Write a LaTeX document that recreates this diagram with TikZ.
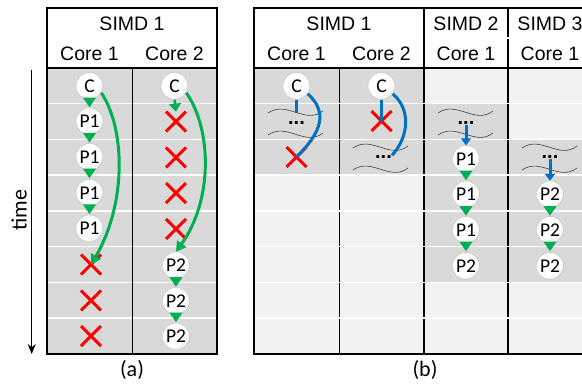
\documentclass[tikz,border=0pt]{standalone}
\usepackage{fontspec}
\setmainfont{Liberation Sans}
\newfontfamily\calfont{Carlito}
\usetikzlibrary{arrows.meta,shapes.misc,calc}
\definecolor{cgray}{HTML}{D9D9D9}
\definecolor{clight}{HTML}{F2F2F2}
\definecolor{cgreen}{HTML}{00B050}
\definecolor{cblue}{HTML}{0070C0}
\definecolor{cred}{HTML}{FF0000}
\pgfdeclareradialshading{ballw}{\pgfpoint{-10bp}{12bp}}{color(0bp)=(white); color(26bp)=(white); color(46bp)=(black!20); color(60bp)=(black!45); color(100bp)=(black!45)}
\begin{document}
\begin{tikzpicture}[x=1pt,y=-1pt,
  proc/.style={circle, shading=ballw, draw=black!25, line width=0.4pt, minimum size=27pt, inner sep=0pt, font=\calfont\fontsize{19.5}{19.5}\selectfont},
  xmark/.style={cross out, draw=cred, line width=3pt, minimum size=17pt, inner sep=0pt},
  hdr/.style={font=\fontsize{19.5}{20}\selectfont, inner sep=0pt, anchor=base},
  captext/.style={font=\calfont\fontsize{22}{22}\selectfont, inner sep=0pt},
  dotstext/.style={font=\bfseries\fontsize{20}{20}\selectfont, inner sep=0pt},
  wavy/.style={draw=black!75, line width=0.6pt},
  gtip/.style={draw=cgreen, line width=2.5pt, -{Triangle[width=12pt,length=8pt]}},
  gcurve/.style={draw=cgreen, line width=3pt, -{Triangle[width=11pt,length=10pt]}},
  barrow/.style={draw=cblue, line width=3pt, -{Triangle[width=10pt,length=7pt]}},
  bline/.style={draw=cblue, line width=3pt},
  rowline/.style={draw=white, line width=1.5pt},
  borderline/.style={draw=black, line width=1.6pt},
  thinline/.style={draw=black, line width=0.9pt}
]
\useasboundingbox (0,0) rectangle (582,385);
\clip (0,0) rectangle (582,385);

% ---------------- panel (a) ----------------
\fill[cgray] (47,68) rectangle (217,354);
\foreach \i in {1,...,7} {\draw[rowline] (48,68+35.75*\i) -- (216,68+35.75*\i);}
\draw[thinline] (132,68) -- (132,354);
\draw[borderline] (47,8) rectangle (217,354);
\draw[borderline] (47,68) -- (217,68);
\node[hdr] (a-simd) at (132,31) {SIMD 1};
\node[hdr] (a-c1) at (89.5,61) {Core 1};
\node[hdr] (a-c2) at (174.5,61) {Core 2};

% time arrow
\coordinate (t0) at (31.7,70);
\coordinate (t1) at (31.7,354);
\draw[line width=1.5pt, -{Stealth[width=8pt,length=10pt]}] (t0) -- (t1);
\node[captext, rotate=90] (time) at (19,210) {time};
\node[captext] (lab-a) at (132,370) {(a)};

% core 1 column
\node[proc] (a1) at (89.5,86) {C};
\node[proc] (a2) at (89.5,121.3) {P1};
\node[proc] (a3) at (89.5,157) {P1};
\node[proc] (a4) at (89.5,192.8) {P1};
\node[proc] (a5) at (89.5,228.5) {P1};
\node[xmark] (a6) at (91,264.6) {};
\node[xmark] (a7) at (91,300.4) {};
\node[xmark] (a8) at (91,336.1) {};

% core 2 column
\node[proc] (b1) at (174.5,86) {C};
\node[xmark] (b2) at (176,121.6) {};
\node[xmark] (b3) at (176,157.4) {};
\node[xmark] (b4) at (176,193.1) {};
\node[xmark] (b5) at (176,228.9) {};
\node[proc] (b6) at (176,265.5) {P2};
\node[proc] (b7) at (176,301) {P2};
\node[proc] (b8) at (176,336.5) {P2};
\draw[gtip] (b1.south) -- (b2.north);

% curved green arrows
\draw[gcurve] (a1.-30) .. controls (126,130) and (126,205) .. (a6.center);
\draw[gcurve] (b1.-30) .. controls (212,130) and (213,200) .. (b6.north);

% ---------------- panel (b) ----------------
\fill[cgray] (254,68) rectangle (424,175.25);
\fill[clight] (254,175.25) rectangle (424,354);
\fill[clight] (424,68) rectangle (508,103.75);
\fill[cgray] (424,103.75) rectangle (508,282.75);
\fill[clight] (424,282.75) rectangle (508,354);
\fill[clight] (508,68) rectangle (592,139.5);
\fill[cgray] (508,139.5) rectangle (592,282.75);
\fill[clight] (508,282.75) rectangle (592,354);

\draw[thinline] (339,68) -- (339,354);
\draw[borderline] (424,8) -- (424,354);
\draw[borderline] (508,8) -- (508,354);
\foreach \i in {1,...,7} {\draw[rowline] (255,68+35.75*\i) -- (592,68+35.75*\i);}
\draw[rowline] (425,38) -- (592,38);
\draw[borderline] (254,8) rectangle (592,354);
\draw[borderline] (254,68) -- (592,68);

\node[hdr] (b-simd1) at (339,31) {SIMD 1};
\node[hdr] (b-simd2) at (466,31) {SIMD 2};
\node[hdr] (b-simd3) at (550,31) {SIMD 3};
\node[hdr] (b-c1) at (296.5,61) {Core 1};
\node[hdr] (b-c2) at (381.5,61) {Core 2};
\node[hdr] (b-c3) at (466,61) {Core 1};
\node[hdr] (b-c4) at (550,61) {Core 1};
\node[captext] (lab-b) at (425,370) {(b)};

% SIMD1 core 1
\node[proc] (p1) at (296.5,86) {C};
\node[dotstext] (p2) at (296.5,123) {...};
\node[xmark] (p3) at (296.5,157) {};
\draw[wavy] (268,113) .. controls (287,100) and (305,125) .. (323,111);
\draw[wavy] (268,135) .. controls (287,122) and (305,147) .. (323,133);
\coordinate (p1e) at (296.5,113);
\draw[bline] (p1.south) -- (p1e);
\draw[bline] (p1.-35) .. controls (328,112) and (322,132) .. (p3.center);

% SIMD1 core 2
\node[proc] (q1) at (381.5,86) {C};
\node[xmark] (q2) at (381.5,121) {};
\node[dotstext] (q3) at (383.5,157) {...};
\draw[wavy] (353,148) .. controls (372,135) and (390,160) .. (408,146);
\draw[wavy] (353,170) .. controls (372,157) and (390,182) .. (408,168);
\draw[bline] (q1.south) -- (q2.center);
\draw[bline] (q1.-35) .. controls (412,110) and (408,138) .. (q3.north east);

% SIMD2 core 1
\node[dotstext] (r2) at (466,123) {...};
\node[proc] (r3) at (466,159) {P1};
\node[proc] (r4) at (466,194.5) {P1};
\node[proc] (r5) at (466,230) {P1};
\node[proc] (r6) at (466,266) {P2};
\draw[wavy] (438,113) .. controls (457,100) and (475,125) .. (493,111);
\draw[wavy] (438,135) .. controls (457,122) and (475,147) .. (493,133);
\draw[barrow] (r2.south) -- (r3.north);

% SIMD3 core 1
\node[dotstext] (s3) at (550,157) {...};
\node[proc] (s4) at (550,194.5) {P2};
\node[proc] (s5) at (550,230) {P2};
\node[proc] (s6) at (550,266) {P2};
\draw[wavy] (522,148) .. controls (541,135) and (559,160) .. (577,146);
\draw[wavy] (522,170) .. controls (541,157) and (559,182) .. (577,168);
\draw[barrow] (s3.south) -- (s4.north);

% green step triangles below a node
\foreach \n in {a1,a2,a3,a4,b6,b7,r3,r4,r5,s4,s5} {
  \fill[cgreen] ($(\n.south)+(-6.5,-2)$) -- ($(\n.south)+(6.5,-2)$) -- ($(\n.south)+(0,7.5)$) -- cycle;
}
\end{tikzpicture}
\end{document}
